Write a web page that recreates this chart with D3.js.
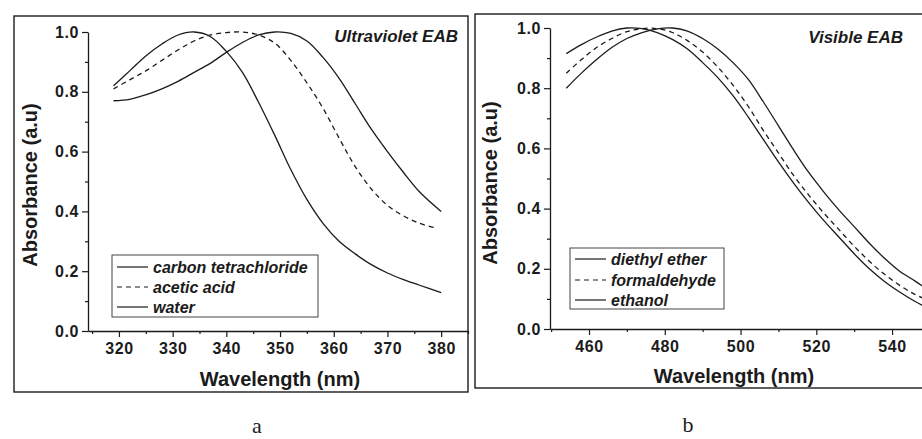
<!DOCTYPE html>
<html>
<head>
<meta charset="utf-8">
<script src="https://cdn.jsdelivr.net/npm/d3@7"></script>
<style>
  html, body { margin: 0; padding: 0; background: #fff; }
  svg { display: block; }
  text { font-family: "Liberation Sans", Arial, sans-serif; fill: #1b1b1b; }
</style>
</head>
<body>
<svg id="chart" width="922" height="439"></svg>
<script>
// ---------- Data ----------
// Panel a: Ultraviolet EAB
const uvWavelength       = [319,322,325,328,331,334,337,340,343,346,349,352,355,358,361,364,367,370,373,376,380];
const uvWavelengthAcetic = [319,322,325,328,331,334,337,340,343,346,349,352,355,358,361,364,367,370,373,376,379];
const carbonTetrachloride = [0.82,0.87,0.92,0.96,0.99,1.0,0.985,0.935,0.865,0.765,0.655,0.54,0.44,0.36,0.3,0.258,0.222,0.194,0.172,0.153,0.128];
const aceticAcid          = [0.81,0.84,0.87,0.905,0.94,0.97,0.99,0.998,1.0,0.99,0.963,0.905,0.83,0.745,0.645,0.55,0.475,0.42,0.385,0.36,0.345];
const water               = [0.77,0.775,0.79,0.81,0.835,0.865,0.895,0.932,0.965,0.99,1.0,0.995,0.97,0.915,0.845,0.76,0.675,0.6,0.53,0.465,0.4];

// Panel b: Visible EAB
const visWavelength = [454,458,462,466,470,474,478,482,486,490,494,498,502,506,510,514,518,522,526,530,534,538,542,546,550];
const diethylEther  = [0.915,0.945,0.97,0.99,1.0,0.998,0.985,0.962,0.93,0.885,0.835,0.775,0.705,0.63,0.555,0.485,0.42,0.36,0.305,0.25,0.2,0.158,0.123,0.092,0.066];
const formaldehyde  = [0.85,0.895,0.935,0.965,0.988,0.998,0.998,0.985,0.958,0.92,0.87,0.81,0.74,0.66,0.585,0.51,0.445,0.385,0.33,0.275,0.225,0.182,0.145,0.115,0.093];
const ethanol       = [0.80,0.85,0.895,0.935,0.965,0.985,0.997,1.0,0.99,0.965,0.93,0.885,0.83,0.755,0.675,0.595,0.52,0.455,0.395,0.34,0.285,0.235,0.192,0.16,0.125];

const yTicks = [0, 0.2, 0.4, 0.6, 0.8, 1.0];
const yMinorTicks = [0.1, 0.3, 0.5, 0.7, 0.9];
const uvTicks = [320, 330, 340, 350, 360, 370, 380];
const uvMinorTicks = [315, 325, 335, 345, 355, 365, 375, 385];
const visTicks = [460, 480, 500, 520, 540];
const visMinorTicks = [450, 470, 490, 510, 530];

// ---------- Drawing ----------
const svg = d3.select("#chart");
const INK = "#1b1b1b";

function panel(cfg) {
  const g = svg.append("g");
  // outer frame
  g.append("rect")
    .attr("x", cfg.box[0]).attr("y", cfg.box[1])
    .attr("width", cfg.box[2] - cfg.box[0]).attr("height", cfg.box[3] - cfg.box[1])
    .attr("fill", "none").attr("stroke", INK).attr("stroke-width", 1.4);

  const x = d3.scaleLinear().domain(cfg.xDomain).range(cfg.xRange);
  const y = d3.scaleLinear().domain([0, 1]).range(cfg.yRange);

  // minor ticks
  g.append("g").attr("transform", `translate(0,${cfg.yRange[0]})`)
    .call(d3.axisBottom(x).tickValues(cfg.xMinor.filter(v => x(v) >= cfg.xRange[0] && x(v) <= cfg.xRange[1])).tickSize(3).tickSizeOuter(0).tickFormat(""))
    .call(a => a.select(".domain").remove());
  g.append("g").attr("transform", `translate(${cfg.xRange[0]},0)`)
    .call(d3.axisLeft(y).tickValues(yMinorTicks).tickSize(3).tickSizeOuter(0).tickFormat(""))
    .call(a => a.select(".domain").remove());

  // major axes
  const xa = g.append("g").attr("transform", `translate(0,${cfg.yRange[0]})`)
    .call(d3.axisBottom(x).tickValues(cfg.xTicks).tickSize(6).tickPadding(6).tickSizeOuter(0).tickFormat(d3.format("d")));
  const ya = g.append("g").attr("transform", `translate(${cfg.xRange[0]},0)`)
    .call(d3.axisLeft(y).tickValues(yTicks).tickSize(6).tickPadding(3).tickSizeOuter(0).tickFormat(d3.format(".1f")));
  [xa, ya].forEach(a => {
    a.selectAll("path,line").attr("stroke", INK).attr("stroke-width", 1.3);
    a.selectAll("text").attr("font-size", 16).attr("font-weight", "bold")
      .attr("letter-spacing", "0.6px")
      .attr("font-family", '"Liberation Sans", Arial, sans-serif').attr("fill", INK);
  });
  g.selectAll("line").attr("stroke", INK).attr("stroke-width", 1.2);

  // curves
  const line = d3.line().x(d => x(d[0])).y(d => y(d[1])).curve(d3.curveCatmullRom.alpha(0.5));
  cfg.series.forEach(s => {
    g.append("path")
      .datum(s.x.map((w, i) => [w, s.y[i]]))
      .attr("d", line)
      .attr("fill", "none")
      .attr("stroke", INK)
      .attr("stroke-width", 1.3)
      .attr("stroke-dasharray", s.dash ? "5,4" : null);
  });

  // axis titles
  g.append("text").attr("x", cfg.xTitle[0]).attr("y", cfg.xTitle[1])
    .attr("text-anchor", "middle").attr("font-size", 20).attr("font-weight", "bold")
    .text("Wavelength (nm)");
  g.append("text")
    .attr("transform", `translate(${cfg.yTitle[0]},${cfg.yTitle[1]}) rotate(-90)`)
    .attr("text-anchor", "middle").attr("font-size", 20).attr("font-weight", "bold")
    .text("Absorbance (a.u)");

  // panel title
  g.append("text").attr("x", cfg.title[0]).attr("y", cfg.title[1])
    .attr("text-anchor", "end").attr("font-size", 17).attr("font-weight", "bold").attr("font-style", "italic")
    .text(cfg.titleText);

  // legend
  const L = cfg.legend;
  g.append("rect").attr("x", L.x).attr("y", L.y).attr("width", L.w).attr("height", L.h)
    .attr("fill", "#fff").attr("stroke", "#444").attr("stroke-width", 1);
  cfg.series.forEach((s, i) => {
    const ry = L.rows[i];
    g.append("line").attr("x1", L.x + 5).attr("x2", L.x + 36).attr("y1", ry).attr("y2", ry)
      .attr("stroke", INK).attr("stroke-width", 1.2).attr("stroke-dasharray", s.dash ? "5,4" : null);
    g.append("text").attr("x", L.x + 41).attr("y", ry + 6)
      .attr("font-size", 16).attr("font-weight", "bold").attr("font-style", "italic")
      .text(s.name);
  });

  // sub-figure letter
  svg.append("text").attr("x", cfg.letter[0]).attr("y", cfg.letter[1])
    .attr("text-anchor", "middle").attr("font-size", 22)
    .style("font-family", '"Liberation Serif", "Times New Roman", serif')
    .text(cfg.letterText);
}

panel({
  box: [14, 16, 468, 392],
  xDomain: [314.24, 385.0], xRange: [88, 468],
  yRange: [331, 32],
  xTicks: uvTicks, xMinor: uvMinorTicks,
  series: [
    { name: "carbon tetrachloride", x: uvWavelength, y: carbonTetrachloride, dash: false },
    { name: "acetic acid", x: uvWavelengthAcetic, y: aceticAcid, dash: true },
    { name: "water", x: uvWavelength, y: water, dash: false }
  ],
  xTitle: [280, 386], yTitle: [37, 185],
  title: [458, 42], titleText: "Ultraviolet EAB",
  legend: { x: 112, y: 255, w: 206, h: 62, rows: [267, 287, 307] },
  letter: [257, 433], letterText: "a"
});

panel({
  box: [475, 14, 940, 388],
  xDomain: [449.7, 547.9], xRange: [550, 922],
  yRange: [329, 28],
  xTicks: visTicks, xMinor: visMinorTicks,
  series: [
    { name: "diethyl ether", x: visWavelength, y: diethylEther, dash: false },
    { name: "formaldehyde", x: visWavelength, y: formaldehyde, dash: true },
    { name: "ethanol", x: visWavelength, y: ethanol, dash: false }
  ],
  xTitle: [734, 383], yTitle: [497, 183],
  title: [903, 43], titleText: "Visible EAB",
  legend: { x: 570, y: 248, w: 154, h: 61, rows: [259, 280, 300] },
  letter: [688, 432], letterText: "b"
});
</script>
</body>
</html>
